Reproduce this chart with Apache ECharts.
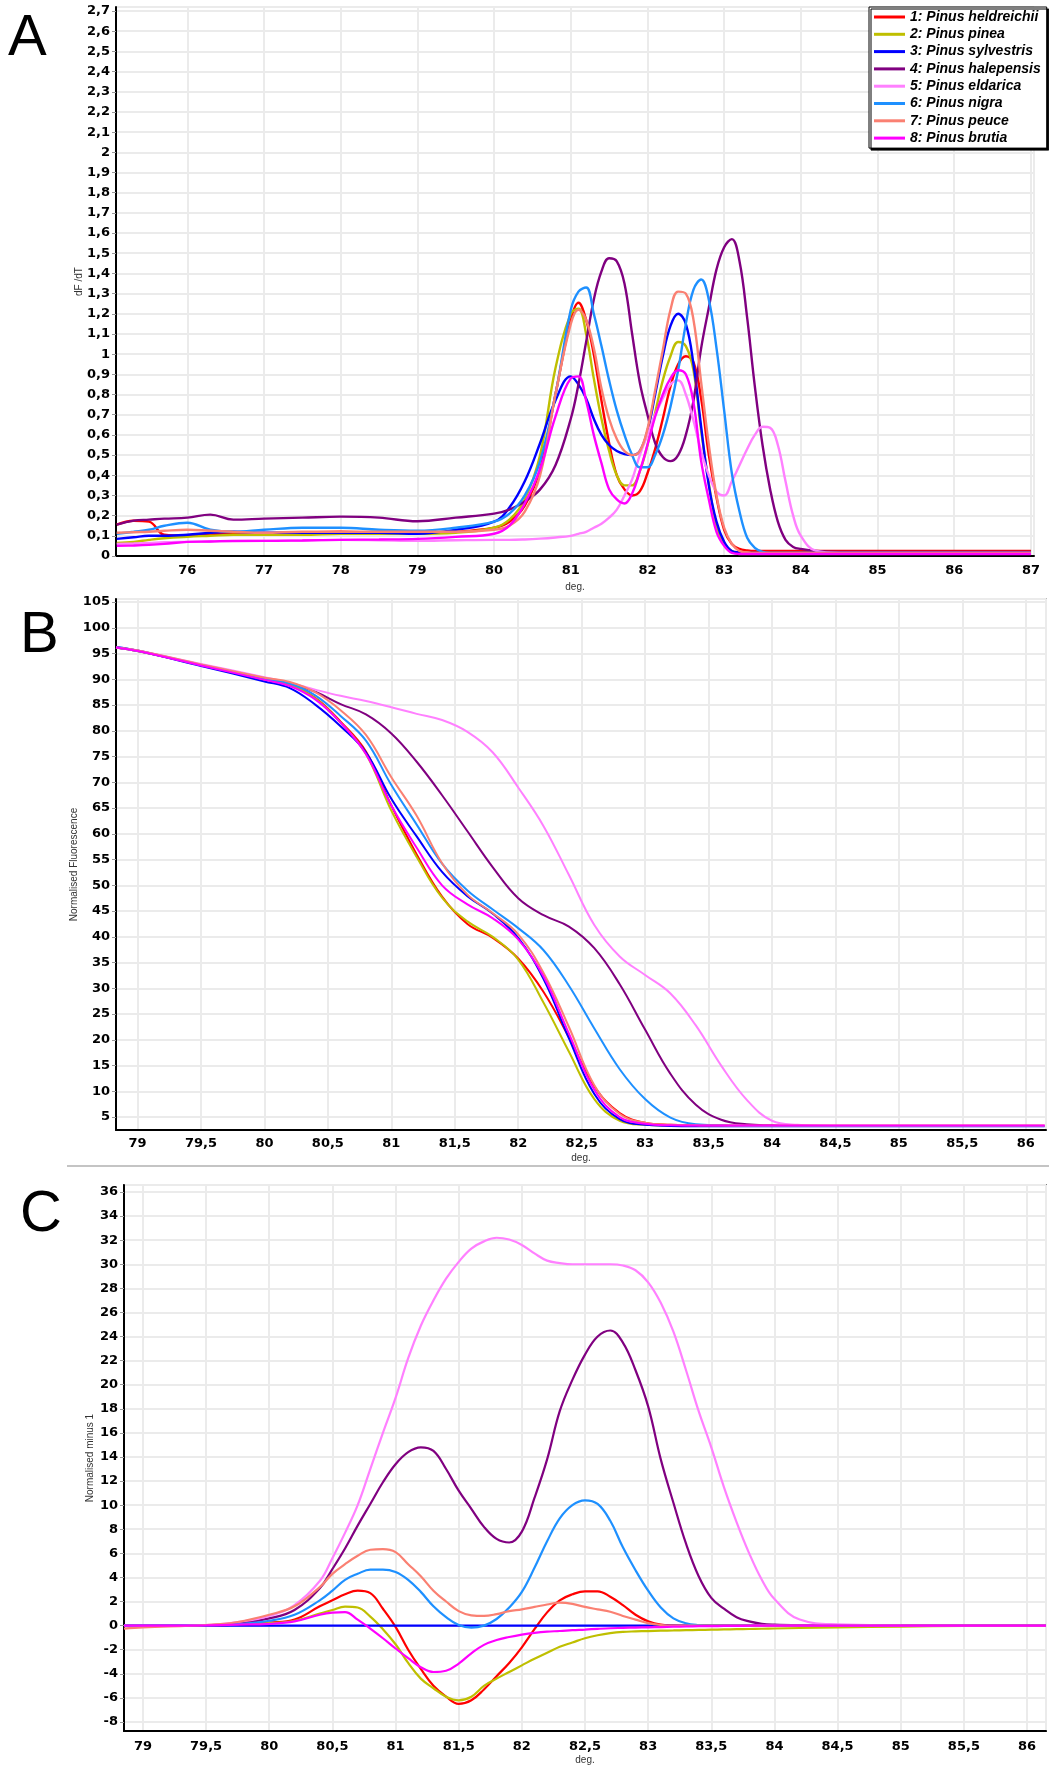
<!DOCTYPE html>
<html>
<head>
<meta charset="utf-8">
<script src="https://cdn.jsdelivr.net/npm/echarts@6/dist/echarts.min.js"></script>
<style>
html, body { margin: 0; padding: 0; background: #fff; }
#main { width: 1049px; height: 1766px; }
</style>
</head>
<body>
<div id="main"></div>
<script>
// species and colours
var names = ['1: Pinus heldreichii', '2: Pinus pinea', '3: Pinus sylvestris', '4: Pinus halepensis',
             '5: Pinus eldarica', '6: Pinus nigra', '7: Pinus peuce', '8: Pinus brutia'];
var colors = ['#ff0000', '#bfbf00', '#0000ff', '#800080', '#ff80ff', '#1e90ff', '#fa8072', '#ff00ff'];

// ---- A : dF/dT ----
var xA = [75.08, 75.3, 75.5, 75.7, 76, 76.3, 76.6, 77, 77.5, 78, 78.5, 79, 79.5, 80,
          80.2, 80.4, 80.6, 80.8,
          81, 81.1, 81.2, 81.3, 81.4, 81.5, 81.6, 81.7, 81.8, 81.9,
          82, 82.1, 82.2, 82.3, 82.4, 82.5, 82.6, 82.7, 82.8, 82.9,
          83, 83.1, 83.2, 83.3, 83.4, 83.5, 83.6, 83.7, 83.8, 83.9, 84,
          84.2, 84.5, 85, 86, 87];
var dfdtHeldreichii = [0.155, 0.175, 0.17, 0.105, 0.1, 0.11, 0.11, 0.11, 0.115, 0.12, 0.115, 0.115, 0.12, 0.14,
  0.17, 0.25, 0.43, 0.8,
  1.17, 1.255, 1.17, 1.0, 0.77, 0.56, 0.4, 0.33, 0.3, 0.32,
  0.41, 0.53, 0.68, 0.84, 0.95, 0.99, 0.96, 0.78, 0.5, 0.29,
  0.13, 0.06, 0.035, 0.028, 0.025, 0.025, 0.025, 0.025, 0.025, 0.025, 0.025,
  0.025, 0.025, 0.025, 0.025, 0.025];
var dfdtPinea = [0.065, 0.07, 0.08, 0.088, 0.095, 0.1, 0.105, 0.105, 0.105, 0.11, 0.11, 0.11, 0.115, 0.14,
  0.18, 0.28, 0.5, 0.93,
  1.2, 1.225, 1.1, 0.88, 0.68, 0.52, 0.4, 0.35, 0.35, 0.42,
  0.55, 0.71, 0.87, 0.99, 1.06, 1.04, 0.92, 0.62, 0.36, 0.15,
  0.06, 0.025, 0.018, 0.015, 0.015, 0.015, 0.015, 0.015, 0.015, 0.015, 0.015,
  0.015, 0.015, 0.015, 0.015, 0.015];
var dfdtSylvestris = [0.085, 0.093, 0.1, 0.1, 0.105, 0.115, 0.12, 0.115, 0.115, 0.115, 0.115, 0.11, 0.13, 0.17,
  0.24, 0.37, 0.56, 0.77,
  0.89, 0.85, 0.78, 0.68, 0.6, 0.55, 0.52, 0.505, 0.5, 0.52,
  0.62, 0.8, 0.99, 1.14, 1.2, 1.15, 0.95, 0.64, 0.35, 0.17,
  0.07, 0.025, 0.018, 0.015, 0.015, 0.015, 0.015, 0.015, 0.015, 0.015, 0.015,
  0.015, 0.015, 0.015, 0.015, 0.015];
var dfdtHalepensis = [0.155, 0.175, 0.18, 0.185, 0.19, 0.205, 0.18, 0.185, 0.19, 0.195, 0.19, 0.172, 0.19, 0.21,
  0.23, 0.27, 0.33, 0.45,
  0.68, 0.85, 1.06, 1.27, 1.41, 1.475, 1.46, 1.35, 1.1, 0.86,
  0.7, 0.56, 0.49, 0.47, 0.5, 0.6, 0.77, 1.03, 1.23, 1.42,
  1.53, 1.57, 1.46, 1.18, 0.84, 0.55, 0.33, 0.17, 0.08, 0.045, 0.035,
  0.025, 0.02, 0.02, 0.02, 0.02];
var dfdtEldarica = [0.06, 0.062, 0.065, 0.068, 0.07, 0.072, 0.073, 0.075, 0.077, 0.08, 0.078, 0.075, 0.078, 0.08,
  0.08, 0.082, 0.086, 0.092,
  0.1, 0.11, 0.12, 0.14, 0.16, 0.19, 0.23, 0.3, 0.38, 0.5,
  0.6, 0.7, 0.78, 0.85, 0.87, 0.8, 0.67, 0.52, 0.4, 0.32,
  0.3, 0.37, 0.45, 0.53, 0.6, 0.64, 0.635, 0.55, 0.37, 0.2, 0.1,
  0.025, 0.015, 0.015, 0.015, 0.015];
var dfdtNigra = [0.11, 0.12, 0.13, 0.15, 0.165, 0.13, 0.12, 0.13, 0.14, 0.14, 0.13, 0.125, 0.14, 0.17,
  0.21, 0.3, 0.47, 0.8,
  1.22, 1.31, 1.33, 1.2, 1.04, 0.87, 0.72, 0.6, 0.5, 0.44,
  0.44, 0.5, 0.6, 0.74, 0.92, 1.15, 1.32, 1.37, 1.27, 1.03,
  0.72, 0.41, 0.22, 0.09, 0.04, 0.02, 0.015, 0.015, 0.015, 0.015, 0.015,
  0.015, 0.015, 0.015, 0.015, 0.015];
var dfdtPeuce = [0.115, 0.118, 0.12, 0.125, 0.13, 0.125, 0.12, 0.115, 0.12, 0.12, 0.12, 0.12, 0.12, 0.13,
  0.15, 0.22, 0.4, 0.8,
  1.15, 1.22, 1.17, 1.03, 0.83, 0.68, 0.58, 0.52, 0.5, 0.52,
  0.63, 0.82, 1.02, 1.22, 1.31, 1.3, 1.17, 0.86, 0.55, 0.3,
  0.14, 0.06, 0.025, 0.018, 0.015, 0.015, 0.015, 0.015, 0.015, 0.015, 0.015,
  0.015, 0.015, 0.015, 0.015, 0.015];
var dfdtBrutia = [0.05, 0.052, 0.055, 0.06, 0.07, 0.072, 0.075, 0.075, 0.077, 0.08, 0.082, 0.085, 0.095, 0.11,
  0.15, 0.26, 0.43, 0.69,
  0.88, 0.89, 0.77, 0.6, 0.46, 0.33, 0.28, 0.26, 0.31, 0.42,
  0.55, 0.69, 0.8, 0.88, 0.92, 0.9, 0.76, 0.47, 0.28, 0.12,
  0.05, 0.015, 0.01, 0.01, 0.01, 0.01, 0.01, 0.01, 0.01, 0.01, 0.01,
  0.01, 0.01, 0.01, 0.01, 0.01];

// ---- B : normalised fluorescence ----
var xB = [78.83, 79, 79.5, 80, 80.2, 80.4, 80.6, 80.8, 81, 81.2, 81.4, 81.6, 81.8, 82, 82.2, 82.4,
          82.6, 82.8, 83, 83.2, 83.4, 83.6, 83.8, 84, 84.2, 84.5, 85, 85.5, 86.15];
var normHeldreichii = [96.2, 95.5, 92.8, 90.0, 88.9, 86.4, 81.8, 76.0, 65.5, 56.0, 47.8, 42.5, 39.8, 35.8, 29.3, 20.5,
  11.0, 5.8, 3.9, 3.5, 3.4, 3.35, 3.3, 3.3, 3.3, 3.3, 3.3, 3.3, 3.3];
var normPinea = [96.2, 95.5, 92.8, 90.0, 88.9, 86.3, 81.6, 75.5, 64.5, 55.5, 47.6, 43.0, 40.0, 35.6, 27.2, 17.7,
  8.5, 4.3, 3.5, 3.35, 3.3, 3.3, 3.3, 3.3, 3.3, 3.3, 3.3, 3.3, 3.3];
var normSylvestris = [96.3, 95.6, 92.6, 89.6, 88.3, 85.1, 80.9, 75.8, 66.8, 59.5, 52.6, 47.9, 44.5, 39.8, 31.8, 20.3,
  9.5, 4.6, 3.5, 3.3, 3.25, 3.25, 3.25, 3.25, 3.25, 3.25, 3.25, 3.25, 3.25];
var normHalepensis = [96.2, 95.6, 92.8, 90.2, 89.3, 87.6, 85.2, 83.2, 79.5, 74.0, 67.5, 60.5, 53.5, 47.5, 44.2, 42.0,
  37.8, 30.8, 22.0, 13.4, 7.4, 4.5, 3.6, 3.4, 3.3, 3.3, 3.3, 3.3, 3.3];
var normEldarica = [96.2, 95.6, 93.0, 90.4, 89.3, 88.0, 86.8, 85.8, 84.6, 83.3, 82.1, 79.8, 75.8, 69.0, 61.5, 52.0,
  42.3, 36.2, 32.6, 29.0, 22.8, 15.0, 8.4, 4.3, 3.5, 3.3, 3.3, 3.3, 3.3];
var normNigra = [96.2, 95.5, 92.8, 90.1, 89.2, 86.9, 82.9, 78.1, 69.5, 61.8, 54.2, 49.0, 45.3, 41.7, 37.4, 30.5,
  22.2, 14.3, 8.5, 4.9, 3.6, 3.4, 3.3, 3.3, 3.3, 3.3, 3.3, 3.3, 3.3];
var normPeuce = [96.2, 95.6, 92.9, 90.3, 89.5, 87.5, 84.0, 79.2, 71.0, 63.5, 54.3, 48.2, 44.6, 40.5, 33.0, 22.5,
  11.2, 5.6, 3.9, 3.5, 3.4, 3.35, 3.35, 3.35, 3.35, 3.35, 3.35, 3.35, 3.35];
var normBrutia = [96.2, 95.5, 92.7, 89.9, 88.7, 86.1, 81.6, 75.5, 65.5, 57.3, 50.0, 46.3, 43.6, 39.5, 32.3, 21.2,
  10.3, 5.0, 3.7, 3.4, 3.35, 3.35, 3.35, 3.35, 3.35, 3.35, 3.35, 3.35, 3.35];

// ---- C : normalised minus 1 (difference to P. sylvestris) ----
var xC = [78.85, 79, 79.5, 79.75, 80, 80.2, 80.4,
          80.5, 80.6, 80.7, 80.8, 80.9, 81, 81.1, 81.2, 81.3, 81.4, 81.5, 81.6, 81.7, 81.8, 81.9,
          82, 82.1, 82.2, 82.3, 82.4, 82.5, 82.6, 82.7, 82.8, 82.9,
          83, 83.1, 83.2, 83.3, 83.4, 83.5, 83.6, 83.7, 83.8, 83.9, 84,
          84.2, 84.5, 85, 85.5, 86.15];
var diffHeldreichii = [0, 0, 0.02, 0.08, 0.25, 0.5, 1.6,
  2.1, 2.6, 2.9, 2.7, 1.4, -0.1, -2.0, -3.6, -5.0, -5.9, -6.5, -6.2, -5.3, -4.2, -3.1,
  -1.8, -0.3, 1.1, 2.1, 2.6, 2.85, 2.85, 2.4, 1.7, 0.9,
  0.35, 0.08, 0.02, 0, 0, 0, 0, 0, 0, 0, 0,
  0, 0, 0, 0, 0];
var diffPinea = [0, 0, 0.02, 0.08, 0.2, 0.4, 1.0,
  1.3, 1.58, 1.5, 0.75, -0.3, -1.55, -3.1, -4.4, -5.2, -5.9, -6.2, -5.9, -5.0, -4.4, -3.85,
  -3.3, -2.75, -2.25, -1.75, -1.4, -1.05, -0.8, -0.62, -0.52, -0.48,
  -0.45, -0.42, -0.4, -0.38, -0.36, -0.34, -0.32, -0.3, -0.28, -0.26, -0.24,
  -0.2, -0.15, -0.08, -0.02, 0];
var diffSylvestris = [0, 0, 0, 0, 0, 0, 0,
  0, 0, 0, 0, 0, 0, 0, 0, 0, 0, 0, 0, 0, 0, 0,
  0, 0, 0, 0, 0, 0, 0, 0, 0, 0,
  0, 0, 0, 0, 0, 0, 0, 0, 0, 0, 0,
  0, 0, 0, 0, 0];
var diffHalepensis = [0, 0, 0.03, 0.2, 0.6, 1.3, 3.1,
  4.7, 6.4, 8.3, 10.1, 11.9, 13.4, 14.4, 14.8, 14.5, 13.0, 11.2, 9.7, 8.2, 7.2, 6.9,
  7.8, 10.6, 13.8, 17.8, 20.4, 22.5, 24.0, 24.5, 23.5, 21.2,
  18.2, 13.8, 10.2, 6.8, 4.1, 2.3, 1.4, 0.7, 0.35, 0.15, 0.08,
  0.03, 0, 0, 0, 0];
var diffEldarica = [0, 0, 0.05, 0.3, 0.8, 1.7, 3.7,
  5.6, 7.7, 10.0, 13.0, 16.0, 18.9, 22.2, 24.9, 27.0, 28.8, 30.2, 31.3, 31.9, 32.2, 32.05,
  31.6, 30.9, 30.3, 30.1, 30.0, 30.0, 30.0, 30.0, 29.9, 29.5,
  28.5, 26.8, 24.4, 21.2, 17.8, 14.8, 11.5, 8.6, 6.0, 3.8, 2.2,
  0.5, 0.1, 0.02, 0, 0];
var diffNigra = [0, 0, 0.02, 0.12, 0.4, 0.9, 2.1,
  2.9, 3.8, 4.3, 4.65, 4.65, 4.45, 3.8, 2.8, 1.6, 0.7, 0.05, -0.17, 0.0, 0.55, 1.5,
  2.8, 4.8, 7.0, 8.9, 10.0, 10.4, 10.1, 8.7, 6.5, 4.6,
  2.9, 1.5, 0.6, 0.2, 0.05, 0, 0, 0, 0, 0, 0,
  0, 0, 0, 0, 0];
var diffPeuce = [-0.25, -0.15, 0.05, 0.3, 0.9, 1.6, 3.2,
  4.3, 5.1, 5.8, 6.3, 6.35, 6.1, 5.1, 4.1, 2.9, 2.0, 1.2, 0.85, 0.8, 0.95, 1.2,
  1.35, 1.55, 1.75, 1.9, 1.8, 1.55, 1.35, 1.15, 0.8, 0.5,
  0.2, 0.05, 0, 0, 0, 0, 0, 0, 0, 0, 0,
  0, 0, 0, 0, 0];
var diffBrutia = [0, 0, 0.02, 0.08, 0.15, 0.35, 0.9,
  1.08, 1.12, 0.5, -0.25, -1.05, -1.9, -2.7, -3.45, -3.85, -3.75, -3.15, -2.3, -1.6, -1.2, -0.95,
  -0.75, -0.6, -0.5, -0.45, -0.38, -0.33, -0.27, -0.22, -0.19, -0.16,
  -0.14, -0.12, -0.09, -0.07, -0.05, -0.04, -0.03, -0.02, -0.01, 0, 0,
  0, 0, 0, 0, 0];

var panelA = [dfdtHeldreichii, dfdtPinea, dfdtSylvestris, dfdtHalepensis, dfdtEldarica, dfdtNigra, dfdtPeuce, dfdtBrutia];
var panelB = [normHeldreichii, normPinea, normSylvestris, normHalepensis, normEldarica, normNigra, normPeuce, normBrutia];
var panelC = [diffHeldreichii, diffPinea, diffSylvestris, diffHalepensis, diffEldarica, diffNigra, diffPeuce, diffBrutia];

function comma(v) {
  return String(Math.round(v * 10) / 10).replace('.', ',');
}

var labelStyle = { color: '#000', fontWeight: 'bold', fontSize: 13, fontFamily: 'DejaVu Sans' };
var nameStyle = { color: '#333', fontSize: 10, fontFamily: 'Liberation Sans' };

function xAxis(idx, min, max, split, margin, gap) {
  return {
    type: 'value', gridIndex: idx, min: min, max: max, splitNumber: split,
    name: 'deg.', nameLocation: 'middle', nameGap: gap, nameMoveOverlap: false, nameTextStyle: nameStyle,
    axisLine: { show: true, onZero: false, lineStyle: { color: '#000', width: 2 } },
    axisTick: { show: false },
    splitLine: { show: true, lineStyle: { color: '#ebebeb', width: 2 } },
    axisLabel: Object.assign({ margin: margin, showMinLabel: false, showMaxLabel: false, formatter: comma }, labelStyle)
  };
}

function yAxis(idx, opts, name, gap) {
  return Object.assign({
    type: 'value', gridIndex: idx,
    name: name, nameLocation: 'middle', nameGap: gap, nameMoveOverlap: false, nameTextStyle: nameStyle,
    axisLine: { show: true, onZero: false, lineStyle: { color: '#000', width: 2 } },
    axisTick: { show: true, length: 4, lineStyle: { color: '#999' } },
    splitLine: { show: true, lineStyle: { color: '#ebebeb', width: 2 } }
  }, opts);
}

function build(idx, xs, list, width) {
  return list.map(function (ys, k) {
    return {
      name: names[k], type: 'line', xAxisIndex: idx, yAxisIndex: idx,
      data: xs.map(function (x, i) { return [x, ys[i]]; }),
      smooth: 0.4, symbol: 'none', showSymbol: false,
      lineStyle: { color: colors[k], width: width },
      itemStyle: { color: colors[k] },
      emphasis: { disabled: true }
    };
  });
}

var chart = echarts.init(document.getElementById('main'));
var option = {
  animation: false,
  backgroundColor: '#fff',
  grid: [
    { left: 116, top: 7, width: 918, height: 549, show: true, borderColor: '#222', borderWidth: 1 },
    { left: 116, top: 599, width: 930, height: 531, show: true, borderColor: '#888', borderWidth: 1.5 },
    { left: 124, top: 1185, width: 922, height: 546, show: true, borderColor: '#222', borderWidth: 1.5 }
  ],
  xAxis: [
    xAxis(0, 75.07, 87.04, 12, 8, 26),
    xAxis(1, 78.83, 86.16, 14, 7, 23),
    xAxis(2, 78.85, 86.15, 14, 9, 24)
  ],
  yAxis: [
    yAxis(0, { min: 0, max: 2.72, interval: 0.1,
               axisLabel: Object.assign({ margin: 6, showMaxLabel: false, formatter: comma }, labelStyle) },
          'dF /dT', 32),
    yAxis(1, { min: 2.5, max: 105.6, splitNumber: 20,
               axisLabel: Object.assign({ margin: 6, showMinLabel: false, showMaxLabel: false, formatter: comma }, labelStyle) },
          'Normalised Fluorescence', 37),
    yAxis(2, { min: -8.75, max: 36.58, splitNumber: 22,
               axisLabel: Object.assign({ margin: 6, showMinLabel: false, showMaxLabel: false, formatter: comma }, labelStyle) },
          'Normalised minus 1', 29)
  ],
  legend: {
    data: names, orient: 'vertical', left: 869, top: 7,
    icon: 'rect', itemWidth: 31, itemHeight: 3, itemGap: 3.3,
    padding: [3, 6, 3, 5], selectedMode: false,
    backgroundColor: '#fff', borderColor: '#000', borderWidth: 1,
    shadowColor: '#000', shadowBlur: 0, shadowOffsetX: 2, shadowOffsetY: 2,
    textStyle: { color: '#000', fontFamily: 'Liberation Sans', fontWeight: 'bold', fontStyle: 'italic',
                 fontSize: 14, lineHeight: 14 }
  },
  graphic: [
    { type: 'text', left: 8, top: 10, style: { text: 'A', font: '58px "Liberation Sans"', fill: '#000' } },
    { type: 'text', left: 20, top: 607, style: { text: 'B', font: '58px "Liberation Sans"', fill: '#000' } },
    { type: 'text', left: 20, top: 1186, style: { text: 'C', font: '58px "Liberation Sans"', fill: '#000' } },
    { type: 'line', shape: { x1: 67, y1: 1166, x2: 1049, y2: 1166 }, style: { stroke: '#c4c4c4', lineWidth: 2 } }
  ],
  series: [].concat(build(0, xA, panelA, 2.4), build(1, xB, panelB, 2), build(2, xC, panelC, 2.2))
};
chart.setOption(option);
</script>
</body>
</html>
